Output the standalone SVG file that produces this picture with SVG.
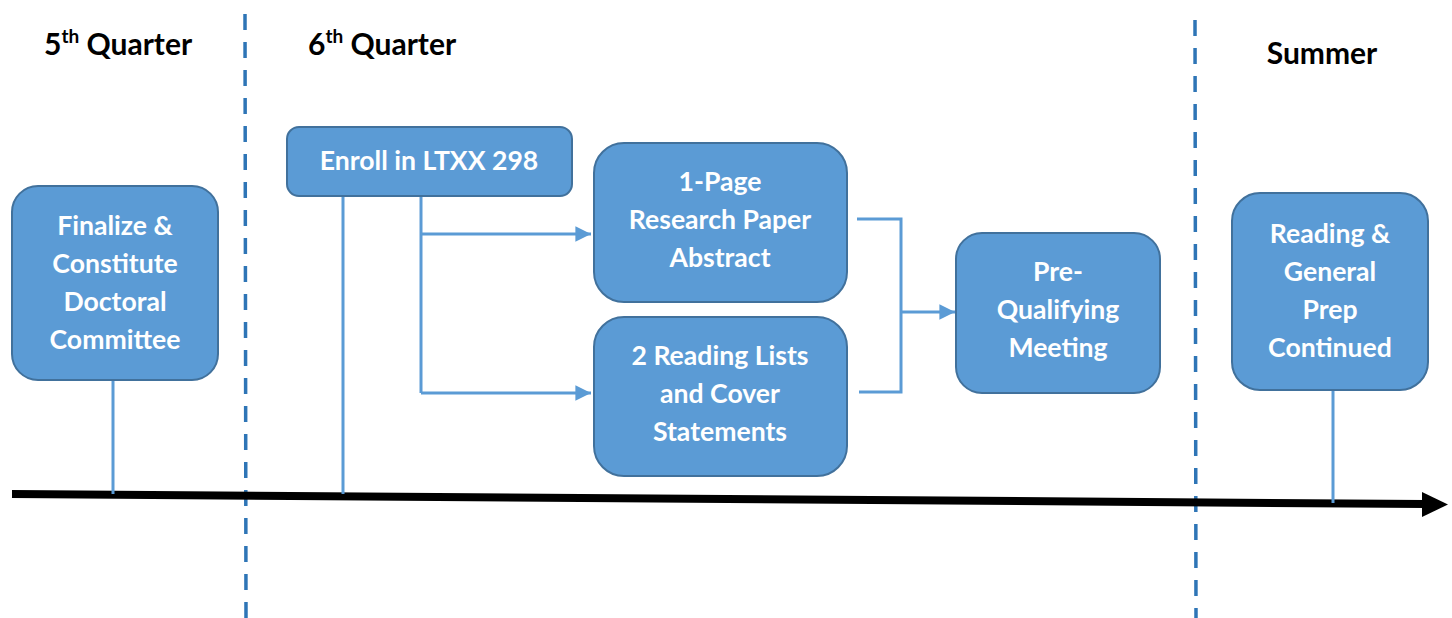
<svg xmlns="http://www.w3.org/2000/svg" width="1452" height="618" viewBox="0 0 1452 618">
  <style>
    .box { fill: #5b9bd5; stroke: #41719c; stroke-width: 2; }
    .lbl { font-family: Lato, "Open Sans", "Liberation Sans", sans-serif; font-weight: bold; font-size: 26.6px; fill: #ffffff; text-anchor: middle; }
    .head { font-family: Lato, "Open Sans", "Liberation Sans", sans-serif; font-weight: bold; font-size: 30px; fill: #000000; }
    .sup { font-size: 19px; }
    .link { fill: none; stroke: #5b9bd5; stroke-width: 3; }
    .divider { fill: none; stroke: #2e75b6; stroke-width: 3.5; stroke-dasharray: 16 12; }
  </style>
  <defs>
    <marker id="arrowBlue" viewBox="0 0 10 10" refX="10" refY="5" markerWidth="5.2" markerHeight="5.4" markerUnits="strokeWidth" orient="auto">
      <path d="M0,0 L10,5 L0,10 Z" fill="#5b9bd5"/>
    </marker>
  </defs>

  <rect width="1452" height="618" fill="#ffffff"/>

  <!-- quarter dividers -->
  <g id="dividers">
    <line class="divider" x1="245" y1="14" x2="246" y2="618"/>
    <line class="divider" x1="1195" y1="20" x2="1196" y2="618"/>
  </g>

  <!-- period headings -->
  <g id="headings">
    <text class="head" x="44" y="55">5<tspan class="sup" dy="-12">th</tspan><tspan dy="12"> Quarter</tspan></text>
    <text class="head" x="308" y="55">6<tspan class="sup" dy="-12">th</tspan><tspan dy="12"> Quarter</tspan></text>
    <text class="head" x="1322" y="64" text-anchor="middle">Summer</text>
  </g>

  <!-- time axis -->
  <g id="timeline">
    <line x1="12" y1="494" x2="1425" y2="504" stroke="#000000" stroke-width="8"/>
    <path d="M1422,492 L1448,504.5 L1422,517 Z" fill="#000000"/>
  </g>

  <!-- connectors -->
  <g id="connectors">
    <line class="link" x1="113" y1="380" x2="113" y2="494"/>
    <line class="link" x1="343" y1="196" x2="343" y2="494"/>
    <line class="link" x1="1333" y1="390" x2="1333" y2="503"/>
    <polyline class="link" points="421,196 421,393"/>
    <line class="link" x1="421" y1="234" x2="591" y2="234" marker-end="url(#arrowBlue)"/>
    <line class="link" x1="421" y1="393" x2="591" y2="393" marker-end="url(#arrowBlue)"/>
    <polyline class="link" points="857,219 901,219 901,392 859,392"/>
    <line class="link" x1="901" y1="312" x2="955" y2="312" marker-end="url(#arrowBlue)"/>
  </g>

  <g id="finalize">
    <rect class="box" x="12" y="186" width="206" height="194" rx="26"/>
    <text class="lbl" x="115" y="235">Finalize &amp;</text>
    <text class="lbl" x="115" y="273">Constitute</text>
    <text class="lbl" x="115" y="311">Doctoral</text>
    <text class="lbl" x="115" y="349">Committee</text>
  </g>

  <g id="enroll">
    <rect class="box" x="287" y="127" width="285" height="69" rx="12"/>
    <text class="lbl" x="429" y="170">Enroll in LTXX 298</text>
  </g>

  <g id="abstract">
    <rect class="box" x="594" y="143" width="253" height="159" rx="30"/>
    <text class="lbl" x="720" y="191">1-Page</text>
    <text class="lbl" x="720" y="229">Research Paper</text>
    <text class="lbl" x="720" y="267">Abstract</text>
  </g>

  <g id="readingLists">
    <rect class="box" x="594" y="317" width="253" height="159" rx="30"/>
    <text class="lbl" x="720" y="365">2 Reading Lists</text>
    <text class="lbl" x="720" y="403">and Cover</text>
    <text class="lbl" x="720" y="441">Statements</text>
  </g>

  <g id="preQualifying">
    <rect class="box" x="956" y="233" width="204" height="160" rx="26"/>
    <text class="lbl" x="1058" y="281">Pre-</text>
    <text class="lbl" x="1058" y="319">Qualifying</text>
    <text class="lbl" x="1058" y="357">Meeting</text>
  </g>

  <g id="summerPrep">
    <rect class="box" x="1232" y="193" width="196" height="197" rx="28"/>
    <text class="lbl" x="1330" y="243">Reading &amp;</text>
    <text class="lbl" x="1330" y="281">General</text>
    <text class="lbl" x="1330" y="319">Prep</text>
    <text class="lbl" x="1330" y="357">Continued</text>
  </g>
</svg>
